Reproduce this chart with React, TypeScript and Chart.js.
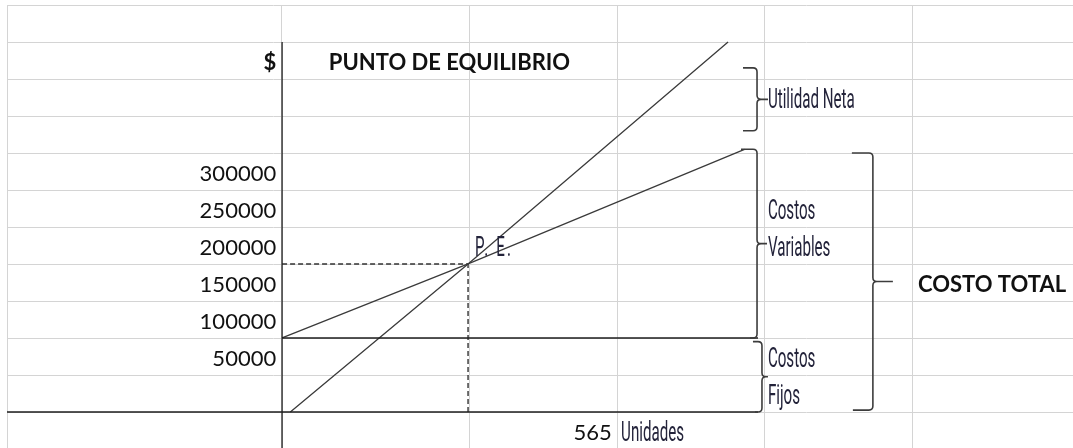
import { useEffect, useRef } from "react";
import { Chart, registerables } from "chart.js";

Chart.register(...registerables);

// Break-even chart: units on the x axis, dollars on the y axis
const PE_UNITS = 565;
const PE_AMOUNT = 200000;
const FIXED_COST = 100000;

const REVENUE_X = [25, PE_UNITS, 1355];
const REVENUE_Y = [0, PE_AMOUNT, 500000];

const TOTAL_COST_X = [0, PE_UNITS, 1405];
const TOTAL_COST_Y = [FIXED_COST, PE_AMOUNT, 355000];

const AXIS_START_X = -836;
const AXIS_END_X = 1446;
const Y_AXIS_BOTTOM = -50000;
const Y_AXIS_TOP = 500000;

const Y_LABELS = [300000, 250000, 200000, 150000, 100000, 50000];
const ROW_STEP = 50000;

// Braces: spine position (units) and the dollar range they enclose
const BRACE_X = [1443, 1443, 1458, 1795];
const BRACE_TOP = [465000, 355000, 95000, 350000];
const BRACE_BOTTOM = [380000, FIXED_COST, 0, 2500];

// Sheet-cell texts: x in units, y = the row line the text sits on
const CELL_TEXTS = ["$", "PUNTO DE EQUILIBRIO", "COSTO TOTAL", String(PE_UNITS)];
const CELL_X = [-18, 142, 1932, 1002];
const CELL_Y = [450000, 450000, 150000, -50000];

const NOTE_TEXTS = ["Utilidad Neta", "Costos", "Variables", "Costos", "Fijos", "P. E.", "Unidades"];
const NOTE_X = [1476, 1476, 1476, 1476, 1476, 586, 1030];
const NOTE_Y = [400000, 250000, 200000, 50000, 0, PE_AMOUNT, -50000];

// Layout / style
const SHEET_COL_WIDTHS = [274, 188, 148, 147, 148];
const GRID_COLOR = "#d4d4d4";
const LINE_COLOR = "#3a3a3a";
const AXIS_COLOR = "#1e1e1e";
const BRACE_COLOR = "#3c3c3c";
const BRACE_STYLE = [
  { hookTop: 14, hookBottom: 14, tip: 11 },
  { hookTop: 16, hookBottom: 7, tip: 10 },
  { hookTop: 9, hookBottom: 7, tip: 6 },
  { hookTop: 21, hookBottom: 20, tip: 20 },
];
const CELL_FONT = "22px Lato";
const CELL_FONT_BOLD = "bold 22px Lato";
const NOTE_FONT = "28px Roboto";
const NOTE_SCALE_X = 0.54;
const NOTE_SPACING = ["0px", "0px", "0px", "0px", "0px", "4px", "0px"];

const pts = (xs: number[], ys: number[]) => xs.map((x, i) => ({ x, y: ys[i] }));

const sheetPlugin = {
  id: "sheetDecor",
  beforeDatasetsDraw(chart: any) {
    const { ctx, chartArea } = chart;
    const ys = chart.scales.y;
    ctx.save();
    ctx.strokeStyle = GRID_COLOR;
    ctx.lineWidth = 1;
    // row lines
    const first = Math.ceil(ys.min / ROW_STEP) * ROW_STEP;
    for (let v = first; v <= ys.max; v += ROW_STEP) {
      const py = Math.round(ys.getPixelForValue(v)) + 0.5;
      ctx.beginPath();
      ctx.moveTo(chartArea.left, py);
      ctx.lineTo(chartArea.right, py);
      ctx.stroke();
    }
    // column lines
    let x = chartArea.left;
    for (let i = 0; i <= SHEET_COL_WIDTHS.length; i++) {
      const px = Math.round(x) + 0.5;
      ctx.beginPath();
      ctx.moveTo(px, chartArea.top);
      ctx.lineTo(px, chartArea.bottom);
      ctx.stroke();
      if (i < SHEET_COL_WIDTHS.length) x += SHEET_COL_WIDTHS[i];
    }
    ctx.restore();
  },
  afterDatasetsDraw(chart: any) {
    const { ctx } = chart;
    const xs = chart.scales.x;
    const ys = chart.scales.y;
    ctx.save();

    // braces
    ctx.strokeStyle = BRACE_COLOR;
    ctx.lineWidth = 1.6;
    ctx.lineJoin = "round";
    BRACE_X.forEach((bx, i) => {
      const sx = xs.getPixelForValue(bx);
      const top = ys.getPixelForValue(BRACE_TOP[i]);
      const bot = ys.getPixelForValue(BRACE_BOTTOM[i]);
      const mid = (top + bot) / 2;
      const { hookTop, hookBottom, tip } = BRACE_STYLE[i];
      const r = 4;
      ctx.beginPath();
      ctx.moveTo(sx - hookTop, top);
      ctx.lineTo(sx - r, top);
      ctx.quadraticCurveTo(sx, top, sx, top + r);
      ctx.lineTo(sx, mid - r);
      ctx.quadraticCurveTo(sx, mid, sx + r, mid);
      ctx.lineTo(sx + tip, mid);
      ctx.moveTo(sx + r, mid);
      ctx.quadraticCurveTo(sx, mid, sx, mid + r);
      ctx.lineTo(sx, bot - r);
      ctx.quadraticCurveTo(sx, bot, sx - r, bot);
      ctx.lineTo(sx - hookBottom, bot);
      ctx.stroke();
    });

    // y value labels (right-aligned cells, bottom aligned on their row line)
    ctx.fillStyle = "#111";
    ctx.font = CELL_FONT;
    ctx.textAlign = "right";
    ctx.textBaseline = "alphabetic";
    const labelX = xs.getPixelForValue(-18);
    Y_LABELS.forEach((v) => {
      ctx.fillText(String(v), labelX, ys.getPixelForValue(v) - 9);
    });

    // other cell texts
    CELL_TEXTS.forEach((t, i) => {
      const isNumber = /^\d+$/.test(t);
      ctx.font = isNumber ? CELL_FONT : CELL_FONT_BOLD;
      ctx.textAlign = isNumber || t === "$" ? "right" : "left";
      ctx.fillText(t, xs.getPixelForValue(CELL_X[i]), ys.getPixelForValue(CELL_Y[i]) - 9);
    });

    // narrow annotation texts
    ctx.font = NOTE_FONT;
    ctx.fillStyle = "#23233a";
    ctx.textAlign = "left";
    NOTE_TEXTS.forEach((t, i) => {
      ctx.save();
      (ctx as any).letterSpacing = NOTE_SPACING[i];
      ctx.translate(xs.getPixelForValue(NOTE_X[i]), ys.getPixelForValue(NOTE_Y[i]) - 8);
      ctx.scale(NOTE_SCALE_X, 1);
      ctx.fillText(t, 0, 0);
      ctx.restore();
    });

    ctx.restore();
  },
};

export default function App() {
  const canvasRef = useRef<HTMLCanvasElement | null>(null);

  useEffect(() => {
    const canvas = canvasRef.current;
    if (!canvas) return;
    const plain = (data: any[], color: string, width: number, dash: number[] = []) => ({
      data,
      borderColor: color,
      borderWidth: width,
      borderDash: dash,
      pointRadius: 0,
      fill: false,
      tension: 0,
    });
    const chart = new Chart(canvas, {
      type: "line",
      data: {
        datasets: [
          plain(pts([AXIS_START_X, AXIS_END_X], [0, 0]), AXIS_COLOR, 1.6),
          plain(pts([0, 0], [Y_AXIS_BOTTOM, Y_AXIS_TOP]), AXIS_COLOR, 1.3),
          plain(pts([0, AXIS_END_X], [FIXED_COST, FIXED_COST]), AXIS_COLOR, 1.6),
          plain(pts(TOTAL_COST_X, TOTAL_COST_Y), LINE_COLOR, 1.3),
          plain(pts(REVENUE_X, REVENUE_Y), LINE_COLOR, 1.3),
          plain(pts([0, PE_UNITS], [PE_AMOUNT, PE_AMOUNT]), "#333", 1.4, [5, 3]),
          plain(pts([PE_UNITS, PE_UNITS], [0, PE_AMOUNT]), "#333", 1.4, [5, 3]),
        ],
      },
      options: {
        animation: false,
        responsive: true,
        maintainAspectRatio: false,
        devicePixelRatio: 1,
        layout: { padding: { left: 7, top: 5, right: 0, bottom: 0 } },
        plugins: { legend: { display: false }, tooltip: { enabled: false } },
        scales: {
          x: { type: "linear", display: false, min: -835.8, max: 2403 },
          y: { type: "linear", display: false, min: -48700, max: 550000 },
        },
      },
      plugins: [sheetPlugin],
    });
    if ((document as any).fonts) {
      Promise.all([
        document.fonts.load(CELL_FONT),
        document.fonts.load(CELL_FONT_BOLD),
        document.fonts.load(NOTE_FONT),
      ]).then(() => chart.draw()).catch(() => {});
    }
    return () => chart.destroy();
  }, []);

  return (
    <div style={{ position: "fixed", left: 0, top: 0, width: 1073, height: 448, background: "#fff" }}>
      <canvas ref={canvasRef} />
    </div>
  );
}
